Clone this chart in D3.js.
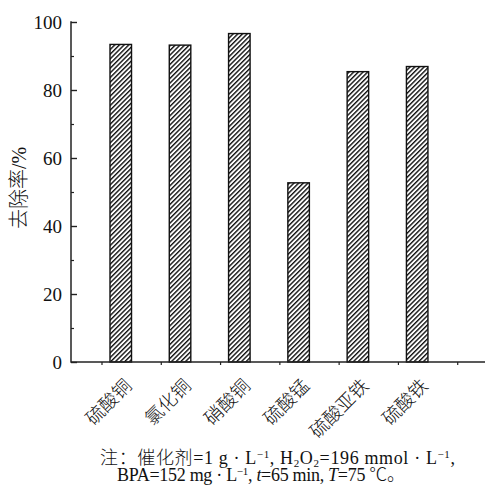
<!DOCTYPE html>
<html>
<head>
<meta charset="utf-8">
<script src="https://cdn.jsdelivr.net/npm/d3@7"></script>
<style>
  html, body { margin: 0; padding: 0; background: #fff; }
  svg { display: block; }
</style>
</head>
<body>
<svg id="chart" width="486" height="487"></svg>
<script>
// Catalyst types and BPA removal rate (%)
const categories = ["硫酸铜", "氯化铜", "硝酸铜", "硫酸锰", "硫酸亚铁", "硫酸铁"];
const removal = [93.4, 93.2, 96.6, 52.7, 85.4, 86.9];
const yMajorTicks = [0, 20, 40, 60, 80, 100];
const yMinorTicks = [10, 30, 50, 70, 90];
const yTitle = "去除率/%";

const svg = d3.select("#chart");
const serif = "'Liberation Serif', 'Times New Roman', 'Noto Sans CJK SC', serif";

// plot area
const plotL = 71, plotR = 485, plotT = 22, plotB = 362;

const y = d3.scaleLinear().domain([0, 100]).range([plotB, plotT]);
const x = d3.scaleBand().domain(categories).range([plotL, plotR])
  .paddingInner(0.637).paddingOuter(0.81).align(0.406);
const step = x.step();

// diagonal hatch fill
const defs = svg.append("defs");
const pat = defs.append("pattern")
  .attr("id", "hatch").attr("patternUnits", "userSpaceOnUse")
  .attr("width", 3.3).attr("height", 3.3)
  .attr("patternTransform", "rotate(45)");
pat.append("rect").attr("width", 3.3).attr("height", 3.3).attr("fill", "#fff");
pat.append("line").attr("x1", 0.7).attr("y1", -1).attr("x2", 0.7).attr("y2", 5)
  .attr("stroke", "#111").attr("stroke-width", 1.4);

// bars
svg.append("g").selectAll("rect").data(categories).join("rect")
  .attr("x", d => x(d))
  .attr("y", (d, i) => y(removal[i]))
  .attr("width", x.bandwidth())
  .attr("height", (d, i) => y(0) - y(removal[i]))
  .attr("fill", "url(#hatch)")
  .attr("stroke", "#111").attr("stroke-width", 1.4);

// y axis: inward ticks
const yAxis = svg.append("g").attr("transform", `translate(${plotL},0)`)
  .call(d3.axisLeft(y).tickValues(yMajorTicks).tickSizeInner(-6).tickSizeOuter(0).tickPadding(9));
yAxis.select(".domain").remove();
yAxis.selectAll("line").attr("stroke", "#222").attr("stroke-width", 1.4);
yAxis.selectAll("text").attr("font-family", serif).attr("font-size", 19).attr("fill", "#111");

const yMinor = svg.append("g").attr("transform", `translate(${plotL},0)`)
  .call(d3.axisLeft(y).tickValues(yMinorTicks).tickSizeInner(-3).tickSizeOuter(0).tickFormat(""));
yMinor.select(".domain").remove();
yMinor.selectAll("line").attr("stroke", "#222").attr("stroke-width", 1.2);

svg.append("line").attr("x1", plotL).attr("x2", plotL).attr("y1", plotT - 0.7).attr("y2", plotB + 0.7)
  .attr("stroke", "#222").attr("stroke-width", 1.5);

// x axis line and small tick marks between bars
svg.append("line").attr("x1", plotL).attr("x2", plotR).attr("y1", plotB).attr("y2", plotB)
  .attr("stroke", "#222").attr("stroke-width", 1.5);
const tickXs = categories.map(c => x(c) - 8).concat([x(categories[categories.length - 1]) + step - 8]);
svg.append("g").selectAll("line").data(tickXs).join("line")
  .attr("x1", d => d).attr("x2", d => d)
  .attr("y1", plotB).attr("y2", plotB + 3)
  .attr("stroke", "#222").attr("stroke-width", 1.2);

// rotated category labels
svg.append("g").selectAll("text").data(categories).join("text")
  .attr("transform", d => `translate(${x(d) + x.bandwidth() / 2 + 12},387) rotate(-45)`)
  .attr("text-anchor", "end")
  .attr("font-family", serif).attr("font-size", 18.5).attr("font-weight", 300).attr("fill", "#111")
  .text(d => d);

// y axis title
svg.append("text")
  .attr("transform", "translate(26,188) rotate(-90)")
  .attr("text-anchor", "middle")
  .attr("font-family", serif).attr("font-size", 20).attr("font-weight", 300).attr("fill", "#111")
  .text(yTitle);

// experimental conditions note
function richLine(xPos, yPos, width, parts) {
  const t = svg.append("text").attr("x", xPos).attr("y", yPos)
    .attr("textLength", width).attr("lengthAdjust", "spacing")
    .attr("font-family", serif).attr("font-size", 18).attr("font-weight", 300).attr("fill", "#111");
  let shift = 0;
  parts.forEach(p => {
    const s = t.append("tspan").text(p.t);
    let target = 0;
    if (p.sup) { target = -6; s.attr("font-size", 11); }
    if (p.sub) { target = 3; s.attr("font-size", 11); }
    s.attr("dy", target - shift);
    shift = target;
    if (p.i) s.attr("font-style", "italic");
  });
}
richLine(100, 464, 355, [
  { t: "注：催化剂=1 g · L" }, { t: "−1", sup: true }, { t: ", H" }, { t: "2", sub: true },
  { t: "O" }, { t: "2", sub: true }, { t: "=196 mmol · L" }, { t: "−1", sup: true }, { t: "," }
]);
richLine(117, 481, 288, [
  { t: "BPA=152 mg · L" }, { t: "−1", sup: true }, { t: ", " }, { t: "t", i: true },
  { t: "=65 min, " }, { t: "T", i: true }, { t: "=75 ℃。" }
]);
</script>
</body>
</html>
